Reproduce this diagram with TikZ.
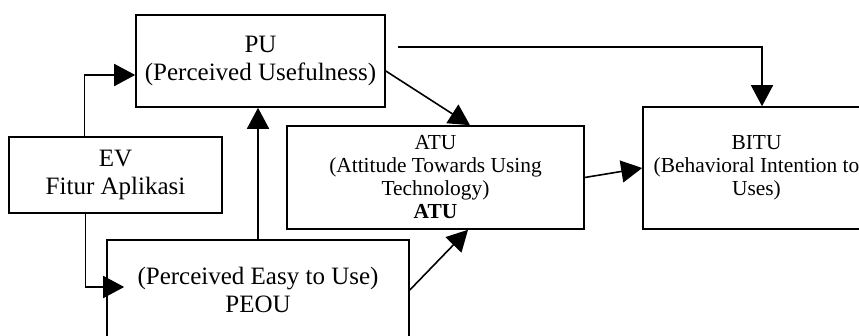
\documentclass[tikz,border=0pt]{standalone}
\usepackage{fontspec}
\setmainfont{Liberation Serif}
\usetikzlibrary{arrows.meta}
\begin{document}
\begin{tikzpicture}[x=1pt,y=-1pt]
  \useasboundingbox (0,0) rectangle (859,336);
  \clip (0,0) rectangle (859,336);
  \fill[white] (0,0) rectangle (859,336);
  \begin{scope}[every node/.style={draw,line width=1.6pt,inner sep=0pt,align=center,font=\fontsize{25}{28}\selectfont}]
  \node[minimum width=249pt,minimum height=92pt] (pu) at (260.5,61) {PU\\(Perceived Usefulness)};
  \node[minimum width=213pt,minimum height=76pt] (ev) at (115.5,175) {EV\\Fitur Aplikasi};
  \node[minimum width=302pt,minimum height=100pt] (peou) at (258,290) {(Perceived Easy to Use)\\PEOU};
  \node[minimum width=297pt,minimum height=103pt,font=\fontsize{21.4}{23}\selectfont] (atu) at (435.5,177.5) {ATU\\(Attitude Towards Using\\Technology)\\\textbf{ATU}};
  \node[minimum width=227pt,minimum height=122pt,font=\fontsize{21.4}{23}\selectfont] (bitu) at (756.5,168) {BITU\\(Behavioral Intention to\\Uses)};
  \end{scope}
  \begin{scope}[every edge/.style={draw=black,line width=1.6pt,-{Triangle[length=21pt,width=22pt]}}]
  \path ([xshift=-31pt]ev.north) edge[to path={|- (\tikztotarget)}] ([yshift=-14pt]pu.west);
  \path ([xshift=-30pt]ev.south) edge[to path={|- (\tikztotarget)}] ([xshift=18pt,yshift=3pt]peou.west);
  \path (peou.north) edge (peou.north |- pu.south);
  \path ([yshift=-10pt]pu.east) edge ([xshift=34.5pt]atu.north);
  \path ([xshift=12pt,yshift=14pt]pu.east) edge[to path={-| (\tikztotarget)}] ([xshift=5.5pt]bitu.north);
  \path (atu.east) edge (bitu.west);
  \path (peou.east) edge ([xshift=32.5pt]atu.south);
  \end{scope}
\end{tikzpicture}
\end{document}
